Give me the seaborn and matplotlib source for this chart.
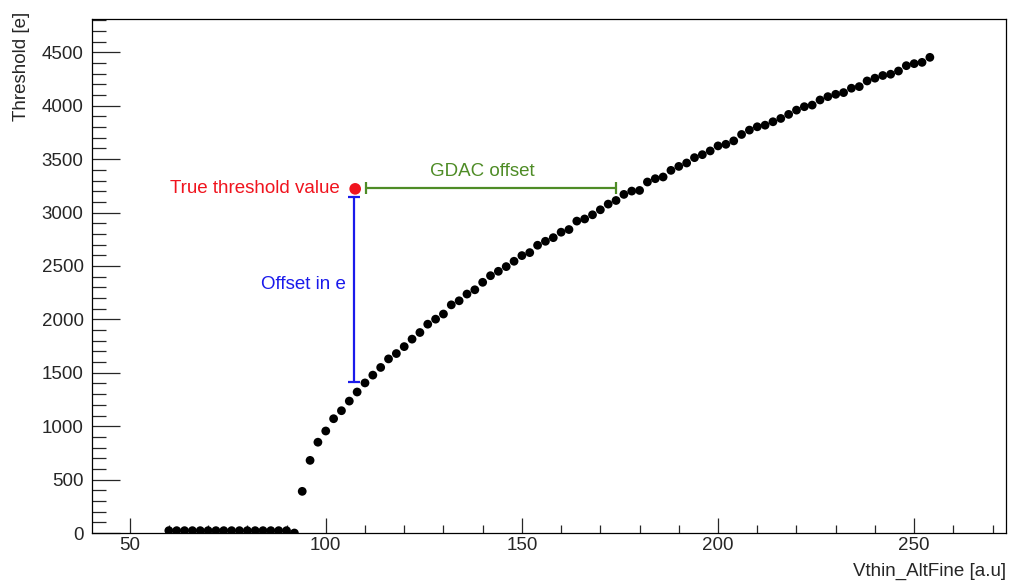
import matplotlib
matplotlib.use("Agg")
import matplotlib.pyplot as plt
from matplotlib.ticker import MultipleLocator
import seaborn as sns
import pandas as pd

# ---- data ----
vthin = [60, 62, 64, 66, 68, 70, 72, 74, 76, 78, 80, 82, 84, 86, 88, 90, 92,
         94, 96, 98, 100, 102, 104, 106, 108, 110, 112, 114, 116, 118, 120,
         122, 124, 126, 128, 130, 132, 134, 136, 138, 140, 142, 144, 146, 148,
         150, 152, 154, 156, 158, 160, 162, 164, 166, 168, 170, 172, 174, 176,
         178, 180, 182, 184, 186, 188, 190, 192, 194, 196, 198, 200, 202, 204,
         206, 208, 210, 212, 214, 216, 218, 220, 222, 224, 226, 228, 230, 232,
         234, 236, 238, 240, 242, 244, 246, 248, 250, 252, 254]
threshold = [22, 22, 22, 22, 22, 22, 22, 22, 22, 22, 22, 22, 22, 22, 22, 22, 0,
             390, 680, 850, 955, 1070, 1145, 1235, 1320, 1405, 1478, 1550, 1630,
             1680, 1745, 1815, 1877, 1955, 2002, 2050, 2136, 2174, 2237, 2277,
             2347, 2409, 2450, 2494, 2544, 2597, 2625, 2694, 2731, 2765, 2816,
             2841, 2920, 2940, 2979, 3026, 3079, 3113, 3170, 3201, 3207, 3286,
             3317, 3333, 3395, 3432, 3464, 3514, 3542, 3577, 3624, 3639, 3671,
             3731, 3772, 3803, 3818, 3850, 3881, 3919, 3959, 3991, 4006, 4054,
             4085, 4107, 4123, 4164, 4179, 4232, 4258, 4283, 4295, 4325, 4375,
             4394, 4406, 4453]

true_point = (107.5, 3222)
gdac_x = [110.2, 174.0]
gdac_y = 3228
offset_x = 107.1
offset_y = [1416, 3146]

x_ticks = [50, 100, 150, 200, 250]
y_ticks = [0, 500, 1000, 1500, 2000, 2500, 3000, 3500, 4000, 4500]

RED = "#f0141e"
GREEN = "#4e8c26"
BLUE = "#1a1aeb"

# ---- style ----
sns.set_style("white")
plt.rcParams["font.family"] = ["Liberation Sans", "DejaVu Sans"]

fig = plt.figure(figsize=(10.15, 5.81), dpi=100)
ax = fig.add_axes([0.0906, 0.0826, 0.9005, 0.8847])

df = pd.DataFrame({"Vthin": vthin, "Threshold": threshold})
sns.scatterplot(data=df, x="Vthin", y="Threshold", color="black", s=40,
                edgecolor="none", linewidth=0, ax=ax, zorder=3)

# annotations
ax.scatter([true_point[0]], [true_point[1]], s=70, color=RED, zorder=4,
           edgecolor="none")
ax.text(103.5, 3222, "True threshold value", color=RED, fontsize=13.5,
        ha="right", va="center")

ax.plot(gdac_x, [gdac_y, gdac_y], color=GREEN, lw=1.6, marker="|",
        markersize=8, markeredgewidth=1.6)
ax.text(139.8, 3385, "GDAC offset", color=GREEN, fontsize=13.5,
        ha="center", va="center")

ax.plot([offset_x, offset_x], offset_y, color=BLUE, lw=1.6, marker="_",
        markersize=8, markeredgewidth=1.6)
ax.text(94.4, 2322, "Offset in e", color=BLUE, fontsize=13.5,
        ha="center", va="center")

# axes
ax.set_xlim(40.4, 273.4)
ax.set_ylim(0, 4812)
ax.set_xticks(x_ticks)
ax.set_yticks(y_ticks)
ax.xaxis.set_minor_locator(MultipleLocator(10))
ax.yaxis.set_minor_locator(MultipleLocator(100))
ax.tick_params(axis="x", which="major", direction="in", length=11, width=0.9,
               labelsize=13.5, pad=3, top=False, bottom=True)
ax.tick_params(axis="x", which="minor", direction="in", length=5.5, width=0.9,
               top=False, bottom=True)
ax.tick_params(axis="y", which="major", direction="in", length=20, width=0.9,
               labelsize=13.5, pad=6, left=True, right=False)
ax.tick_params(axis="y", which="minor", direction="in", length=10, width=0.9,
               left=True, right=False)
for sp in ax.spines.values():
    sp.set_visible(True)
    sp.set_color("black")
    sp.set_linewidth(0.9)

ax.set_xlabel("Vthin_AltFine [a.u]", fontsize=13.5, ha="right")
ax.xaxis.set_label_coords(1.0, -0.074)
ax.xaxis.label.set_va("center")
ax.set_ylabel("Threshold [e]", fontsize=13.5, ha="right")
ax.yaxis.set_label_coords(-0.077, 1.015)
ax.yaxis.label.set_va("center")

ax.grid(False)
fig.savefig("out.png", dpi=100)
